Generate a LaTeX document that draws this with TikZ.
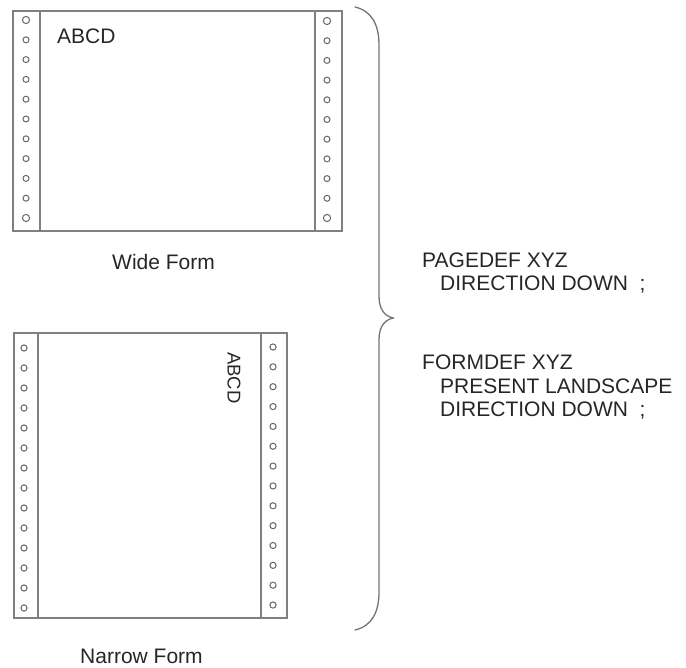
\documentclass[tikz,border=0pt]{standalone}
\usepackage{fontspec}
\setmainfont{Liberation Sans}
\begin{document}
\begin{tikzpicture}[x=1pt,y=-1pt,
  frame/.style={draw=black!50,line width=1.3pt},
  strip/.style={draw=black!50,line width=1.3pt},
  hole/.style={draw=black!60,line width=1pt},
  lbl/.style={anchor=base west,inner sep=0pt,text=black!85,font=\fontsize{21}{25}\selectfont},
  bracestyle/.style={draw=black!55,line width=1.3pt,line cap=round}]
\useasboundingbox (0,0) rectangle (686,668);
% ---------- Wide form ----------
\draw[frame] (13,11) rectangle (342,231);
\draw[strip] (40,11) -- (40,231);
\draw[strip] (315,11) -- (315,231);
\foreach \i in {1,...,9} {
  \draw[hole] (26,{20+\i*19.8}) circle (3);
  \draw[hole] (327,{21+\i*19.7}) circle (3);
}
\draw[hole] (26,20) circle (3.6);
\draw[hole] (26,218) circle (3.6);
\draw[hole] (327,21) circle (3.6);
\draw[hole] (327,218) circle (3.6);
\node[lbl] (abcdw) at (57,44) {ABCD};
\node[lbl] (wide) at (112,270) {Wide Form};
% ---------- Narrow form ----------
\draw[frame] (14,333) rectangle (287,618);
\draw[strip] (38,333) -- (38,618);
\draw[strip] (261,333) -- (261,618);
\foreach \i in {0,...,13} {
  \draw[hole] (24,{348+\i*20}) circle (3.1);
  \draw[hole] (273,{347+\i*19.85}) circle (3.1);
}
\node[rotate=-90,inner sep=0pt,text=black!85,font=\fontsize{18.5}{22}\selectfont] (abcdn) at (234,378) {ABCD};
\node[lbl] (narrow) at (80,663) {Narrow Form};
% ---------- Brace ----------
\coordinate (btop) at (355,7);
\coordinate (btip) at (393,318);
\coordinate (bbot) at (355,630);
\draw[bracestyle] (btop) .. controls (372,11) and (379,25) .. (379,45)
  -- (379,296) .. controls (379,310) and (385,316) .. (btip)
  .. controls (385,320) and (379,326) .. (379,340)
  -- (379,592) .. controls (379,612) and (372,626) .. (bbot);
% ---------- Text ----------
\node[lbl] (p1) at (422,268) {PAGEDEF XYZ};
\node[lbl] (p2) at (440,291) {DIRECTION DOWN\ \ ;};
\node[lbl] (f1) at (422,370) {FORMDEF XYZ};
\node[lbl] (f2) at (440,394) {PRESENT LANDSCAPE};
\node[lbl] (f3) at (440,417) {DIRECTION DOWN\ \ ;};
\end{tikzpicture}
\end{document}
